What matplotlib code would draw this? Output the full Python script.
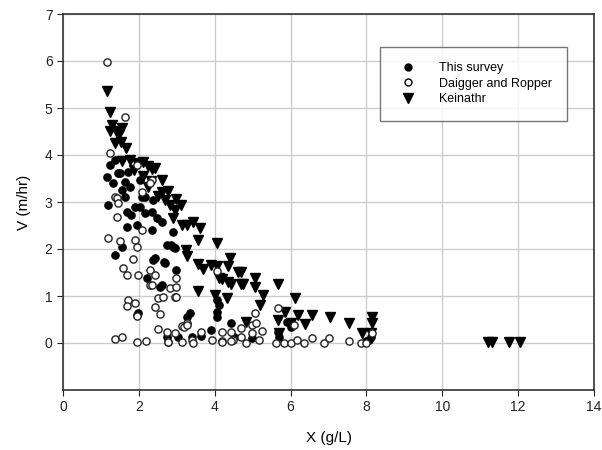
import matplotlib
matplotlib.use("Agg")
import matplotlib.pyplot as plt
from matplotlib.lines import Line2D

plt.rcParams['font.family'] = ['Liberation Sans', 'DejaVu Sans']

# This survey (filled circles)
survey_x = [1.23, 1.16, 1.31, 1.19, 1.55, 1.63, 1.76, 1.44, 1.37, 1.71, 1.68, 1.89, 2.15, 2.34, 2.37,
            2.15, 2.02, 2.47, 1.68, 1.37, 1.55, 2.34, 2.42, 2.68, 2.60, 2.21, 2.73, 2.89, 2.60, 2.89,
            1.78, 1.94, 2.02, 2.37, 2.65, 2.94, 2.99, 2.86, 2.57, 1.97, 1.94, 3.28, 3.36, 4.05, 4.12,
            4.05, 4.05, 4.44, 3.91, 3.41, 3.02, 2.73, 3.65, 4.99, 5.70, 5.91, 6.02, 8.06, 8.12, 5.67,
            4.52, 1.50, 1.63, 2.08, 7.98]
survey_y = [3.79, 3.53, 3.40, 2.94, 3.26, 3.11, 3.32, 3.62, 3.89, 3.64, 2.79, 2.89, 2.77, 2.79, 3.04,
            3.11, 3.47, 2.66, 2.47, 1.87, 2.04, 2.40, 1.81, 1.70, 1.23, 1.38, 2.09, 2.04, 2.57, 2.36,
            2.72, 2.51, 2.89, 1.77, 1.72, 2.02, 1.55, 2.09, 1.19, 0.64, 0.60, 0.55, 0.64, 0.91, 0.81,
            0.66, 0.55, 0.43, 0.28, 0.13, 0.13, 0.13, 0.15, 0.11, 0.13, 0.45, 0.34, 0.06, 0.13, 0.23,
            0.13, 3.62, 3.43, 3.11, 0.04]

# Daigger and Ropper (open circles)
daigger_x = [1.16, 1.63, 1.23, 2.34, 2.08, 1.37, 1.42, 1.94, 1.44, 1.42, 1.18, 1.50, 1.89, 1.94, 1.84,
             2.08, 1.58, 1.68, 1.97, 2.29, 2.42, 2.29, 1.71, 1.68, 1.89, 1.94, 1.37, 1.55, 1.94, 2.18,
             2.42, 2.57, 2.50, 2.63, 2.50, 2.73, 2.76, 2.94, 3.13, 3.15, 3.28, 3.39, 2.94, 2.29, 2.34,
             2.81, 2.99, 2.99, 2.99, 3.65, 3.44, 3.94, 4.20, 4.47, 4.05, 4.18, 4.44, 4.70, 4.70, 4.99,
             4.99, 4.83, 5.17, 5.25, 5.07, 5.67, 5.62, 5.83, 6.02, 6.17, 6.36, 6.57, 6.09, 6.88, 7.01,
             7.54, 7.85, 7.98, 8.14, 5.09, 4.44, 4.18, 3.18, 3.26, 2.76]
daigger_y = [5.98, 4.81, 4.04, 3.47, 3.21, 3.11, 3.09, 3.79, 2.98, 2.68, 2.23, 2.17, 2.19, 2.04, 1.79,
             2.40, 1.60, 1.45, 1.45, 1.55, 1.45, 1.23, 0.91, 0.79, 0.85, 0.57, 0.09, 0.13, 0.02, 0.04,
             0.77, 0.62, 0.96, 0.98, 0.30, 0.23, 0.02, 0.21, 0.02, 0.36, 0.43, 0.06, 0.98, 3.40, 1.23,
             1.17, 1.38, 1.19, 0.98, 0.23, 0.00, 0.06, 0.04, 0.06, 1.53, 0.23, 0.23, 0.32, 0.13, 0.38,
             0.21, 0.00, 0.06, 0.26, 0.64, 0.74, 0.00, 0.00, 0.00, 0.06, 0.00, 0.11, 0.38, 0.00, 0.11,
             0.04, 0.00, 0.00, 0.21, 0.43, 0.04, 0.02, 0.34, 0.38, 0.02]

# Keinathr (triangles)
keinath_x = [1.16, 1.23, 1.29, 1.23, 1.39, 1.47, 1.55, 1.52, 1.65, 1.37, 1.55, 1.76, 1.94, 2.10, 2.23,
             2.34, 2.42, 1.86, 2.10, 2.31, 2.60, 2.23, 2.60, 2.78, 2.50, 2.68, 2.81, 2.97, 3.10, 2.94,
             2.89, 3.13, 3.26, 3.44, 3.60, 3.23, 3.57, 3.26, 4.07, 3.55, 3.91, 4.07, 4.36, 4.39, 4.62,
             4.70, 4.36, 4.75, 4.12, 4.33, 4.02, 3.55, 3.68, 4.20, 4.44, 4.68, 5.07, 5.07, 5.28, 5.67,
             5.20, 4.83, 6.12, 5.86, 6.20, 6.57, 6.38, 7.04, 7.54, 8.14, 8.14, 8.12, 7.88, 5.67, 6.02,
             5.70, 11.2, 11.3, 11.75, 12.05]
keinath_y = [5.36, 4.91, 4.64, 4.51, 4.51, 4.45, 4.57, 4.28, 4.15, 4.26, 3.87, 3.89, 3.83, 3.85, 3.77,
             3.70, 3.72, 3.68, 3.55, 3.45, 3.47, 3.32, 3.21, 3.23, 3.13, 3.04, 2.94, 3.06, 2.94, 2.83,
             2.66, 2.51, 2.51, 2.57, 2.45, 1.98, 2.19, 1.85, 2.13, 1.68, 1.66, 1.64, 1.64, 1.81, 1.51,
             1.51, 1.30, 1.26, 1.38, 0.96, 1.02, 1.11, 1.57, 1.36, 1.26, 1.26, 1.38, 1.19, 1.02, 1.26,
             0.81, 0.45, 0.96, 0.66, 0.60, 0.60, 0.40, 0.55, 0.43, 0.55, 0.43, 0.21, 0.21, 0.49, 0.43,
             0.21, 0.03, 0.03, 0.03, 0.03]

series_labels = ['This survey', 'Daigger and Ropper', 'Keinathr']

fig = plt.figure(figsize=(6.02, 4.5), dpi=100)
ax = fig.add_axes([63/602, 1 - 390/450, (594-63)/602, (390-14)/450])

ax.plot(keinath_x, keinath_y, linestyle='none', marker='v', ms=7, color='black', zorder=3)
ax.plot(survey_x, survey_y, linestyle='none', marker='o', ms=5.2, color='black', zorder=4)
ax.plot(daigger_x, daigger_y, linestyle='none', marker='o', ms=5.2, mfc='white', mec='#222222',
        mew=1.0, zorder=5)

ax.set_xlim(0, 14)
ax.set_ylim(-1, 7)
ax.set_xticks(range(0, 15, 2))
ax.set_yticks(range(0, 8))
ax.grid(True, color='#cccccc', linewidth=1)
ax.set_axisbelow(True)
ax.tick_params(direction='out', length=4, labelsize=10, colors='#222222')
for s in ax.spines.values():
    s.set_color('#333333')
    s.set_linewidth(1.2)
ax.set_xlabel('X (g/L)', fontsize=11, labelpad=12)
ax.set_ylabel('V (m/hr)', fontsize=11, labelpad=10)

handles = [Line2D([], [], linestyle='none', marker='o', ms=5, color='black'),
           Line2D([], [], linestyle='none', marker='o', ms=5, mfc='white', mec='black'),
           Line2D([], [], linestyle='none', marker='v', ms=7, color='black')]
leg = ax.legend(handles, series_labels,
                loc='upper left', bbox_to_anchor=((380-63)/531, 1 - (47-14)/376),
                fontsize=9, frameon=True, fancybox=False, borderpad=1.2,
                handletextpad=1.5, labelspacing=0.3, borderaxespad=0)
leg.get_frame().set_edgecolor('#555555')
leg.get_frame().set_linewidth(1)

fig.savefig('out.png', dpi=100)
